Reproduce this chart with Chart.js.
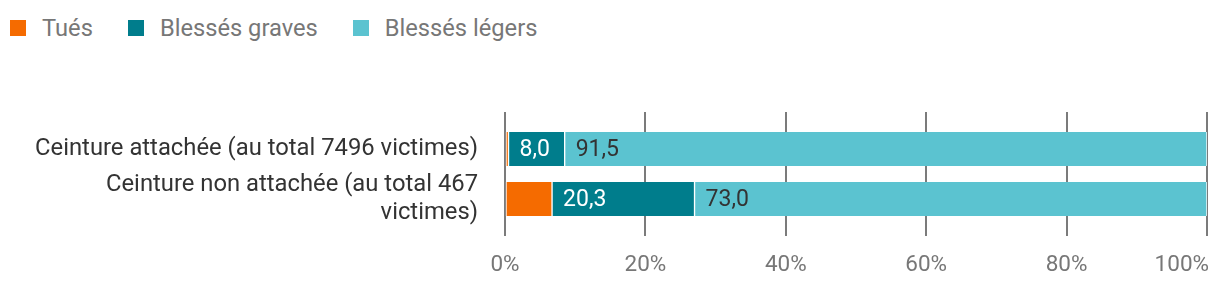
<!DOCTYPE html>
<html><head><meta charset="utf-8">
<script src="https://cdn.jsdelivr.net/npm/chart.js@4.4.1/dist/chart.umd.min.js"></script>
<style>
html,body{margin:0;padding:0;background:#fff;}
#wrap{position:relative;width:1220px;height:284px;}
#legend{position:absolute;left:10px;top:14px;display:flex;align-items:center;font-family:Roboto,sans-serif;font-size:23.7px;line-height:28px;color:#777;}
.item{display:flex;align-items:center;margin-right:35px;}
.box{width:16px;height:16px;margin-right:16px;}
canvas{position:absolute;left:0;top:0;}
</style></head>
<body><div id="wrap"><div id="legend"></div><canvas id="c" width="1220" height="284"></canvas></div>
<script>
const categories = [["Ceinture attachée (au total 7496 victimes)"], ["Ceinture non attachée (au total 467", "victimes)"]];
const seriesNames = ["Tués", "Blessés graves", "Blessés légers"];
const tues = [0.5, 6.7];
const graves = [8.0, 20.3];
const legers = [91.5, 73.0];
const xTickValues = [0, 20, 40, 60, 80, 100];
const xTickLabels = ["0%", "20%", "40%", "60%", "80%", "100%"];

const colors = ["#f56b00", "#007d8c", "#5bc3d0"];
const labelColors = [null, "#ffffff", "#333333"];

const legend = document.getElementById('legend');
seriesNames.forEach((n, i) => {
  const it = document.createElement('div'); it.className = 'item';
  const b = document.createElement('div'); b.className = 'box'; b.style.background = colors[i];
  const t = document.createElement('span'); t.textContent = n;
  it.appendChild(b); it.appendChild(t); legend.appendChild(it);
});

const fmt = v => v.toFixed(1).replace('.', ',');

const labelPlugin = {
  id: 'segLabels',
  afterDatasetsDraw(chart) {
    const ctx = chart.ctx;
    ctx.save();
    ctx.font = '23px Roboto';
    ctx.textBaseline = 'middle';
    ctx.textAlign = 'left';
    chart.data.datasets.forEach((ds, di) => {
      if (!labelColors[di]) return;
      const meta = chart.getDatasetMeta(di);
      meta.data.forEach((el, i) => {
        const start = Math.min(el.base, el.x);
        ctx.fillStyle = labelColors[di];
        ctx.fillText(fmt(ds.data[i]), start + 11, el.y + 1);
      });
    });
    ctx.restore();
  },
  afterDraw(chart) {
    const ctx = chart.ctx; const sx = chart.scales.x;
    ctx.save();
    ctx.font = '22.5px Roboto';
    ctx.fillStyle = '#777';
    ctx.textBaseline = 'middle';
    xTickValues.forEach((v, i) => {
      const px = sx.getPixelForValue(v);
      const last = i === xTickValues.length - 1;
      ctx.textAlign = last ? 'right' : 'center';
      ctx.fillText(xTickLabels[i], last ? px + 2 : px, 265);
    });
    ctx.restore();
  }
};

const gridColor = '#7b7b7b';
new Chart(document.getElementById('c'), {
  type: 'bar',
  data: {
    labels: categories,
    datasets: [tues, graves, legers].map((d, i) => ({
      label: seriesNames[i], data: d, backgroundColor: colors[i],
      borderColor: '#ffffff', borderWidth: {left: 1, right: 1, top: 0, bottom: 0},
      borderSkipped: false, barThickness: 34
    }))
  },
  options: {
    indexAxis: 'y', responsive: false, animation: false,
    layout: {padding: {top: 112, right: 13, left: 0, bottom: 0}},
    plugins: {legend: {display: false}, tooltip: {enabled: false}},
    scales: {
      x: {
        stacked: true, min: 0, max: 100, position: 'bottom',
        afterBuildTicks: s => { s.ticks = xTickValues.map(v => ({value: v})); },
        grid: {color: gridColor, lineWidth: 2, tickLength: 12, drawTicks: true},
        border: {display: false},
        ticks: {display: false},
        afterFit: s => { s.height = 60; }
      },
      x2: {
        stacked: true, min: 0, max: 100, position: 'top', axis: 'x',
        afterBuildTicks: s => { s.ticks = xTickValues.map(v => ({value: v})); },
        grid: {color: gridColor, lineWidth: 2, tickLength: 12, drawOnChartArea: false},
        border: {display: false},
        ticks: {display: false},
        afterFit: s => { s.height = 12; }
      },
      y: {
        stacked: true,
        grid: {display: false, drawTicks: false},
        border: {display: false},
        ticks: {font: {family: 'Roboto', size: 23.8, lineHeight: 1.15}, color: '#333', padding: 27, autoSkip: false},
        afterFit: s => { s.width = 505; }
      }
    }
  },
  plugins: [labelPlugin]
});
</script></body></html>
